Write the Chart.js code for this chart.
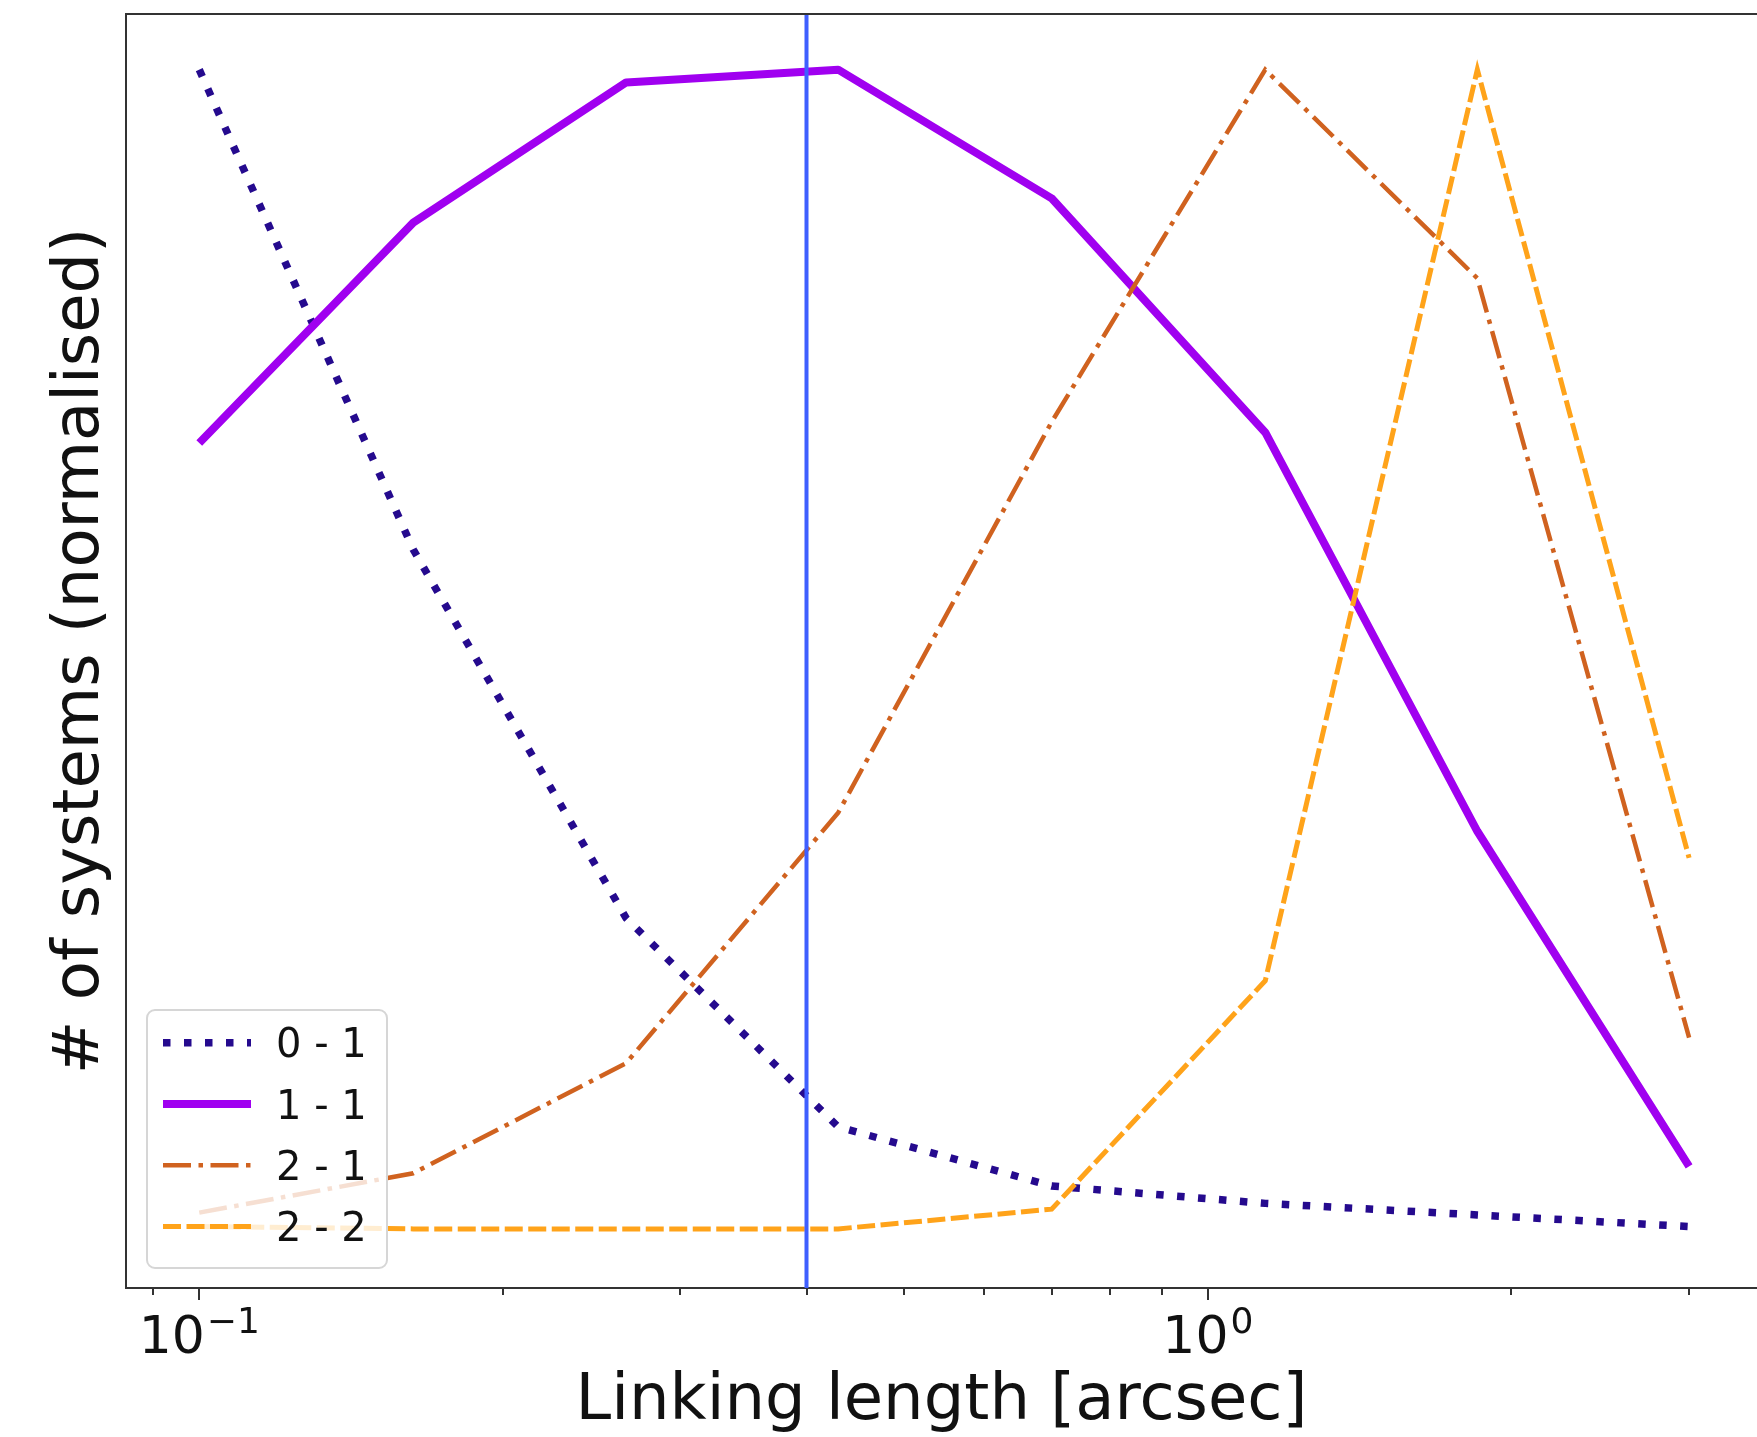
<!DOCTYPE html>
<html>
<head>
<meta charset="utf-8">
<script src="https://cdn.jsdelivr.net/npm/chart.js@4.4.1/dist/chart.umd.min.js"></script>
<style>
  html, body { margin: 0; padding: 0; background: #fff; overflow: hidden; }
  canvas { display: block; }
</style>
</head>
<body>
<canvas id="linking" width="1757" height="1437"></canvas>
<script>
// linking length in arcsec (log spaced from 0.1 to 3)
const linkLength = [0.1, 0.163, 0.265, 0.43, 0.70, 1.14, 1.85, 3.0];

// normalised number of systems per class
const sys01 = [1.0, 0.586, 0.268, 0.088, 0.037, 0.022, 0.012, 0.002];
const sys11 = [0.678, 0.868, 0.989, 1.0, 0.889, 0.687, 0.343, 0.054];
const sys21 = [0.014, 0.048, 0.143, 0.359, 0.696, 1.0, 0.820, 0.165];
const sys22 = [0.002, 0.0, 0.0, 0.0, 0.017, 0.214, 1.0, 0.320];

const seriesNames = ["0 - 1", "1 - 1", "2 - 1", "2 - 2"];
const chosenLength = 0.4;

const majorTicks = [0.1, 1];
const majorExponents = ["\u22121", "0"];
const minorTicks = [0.09, 0.2, 0.3, 0.4, 0.5, 0.6, 0.7, 0.8, 0.9, 2, 3];

const xMin = 0.0846;
const xMax = 3.503;
const yMin = -0.051;
const yMax = 1.048;

const fontFamily = "'DejaVu Sans', sans-serif";
const spineColor = "#333";

const toPoints = (ys) => ys.map((y, i) => ({ x: linkLength[i], y: y }));

const frame = {
  id: "frame",
  afterDraw(chart) {
    const { ctx, chartArea: a } = chart;
    const x = chart.scales.x;
    ctx.save();

    // top spine
    ctx.strokeStyle = spineColor;
    ctx.lineWidth = 2;
    ctx.beginPath();
    ctx.moveTo(a.left, a.top);
    ctx.lineTo(a.right, a.top);
    ctx.stroke();

    // tick marks
    const tick = (v, len) => {
      const px = Math.round(x.getPixelForValue(v));
      ctx.beginPath();
      ctx.moveTo(px, a.bottom);
      ctx.lineTo(px, a.bottom + len);
      ctx.stroke();
    };
    minorTicks.forEach((v) => tick(v, 7));
    majorTicks.forEach((v) => tick(v, 12));

    // tick labels 10^n
    ctx.fillStyle = "#111";
    ctx.textAlign = "left";
    ctx.textBaseline = "alphabetic";
    majorTicks.forEach((v, i) => {
      const px = x.getPixelForValue(v);
      ctx.font = "52px " + fontFamily;
      const w1 = ctx.measureText("10").width;
      ctx.font = "36px " + fontFamily;
      const w2 = ctx.measureText(majorExponents[i]).width;
      const left = px - (w1 + 2 + w2) / 2;
      ctx.font = "52px " + fontFamily;
      ctx.fillText("10", left, a.bottom + 64.5);
      ctx.font = "36px " + fontFamily;
      ctx.fillText(majorExponents[i], left + w1 + 2, a.bottom + 45);
    });

    // legend
    const bx = 147, by = 1010, bw = 240, bh = 258, r = 8;
    ctx.beginPath();
    ctx.moveTo(bx + r, by);
    ctx.arcTo(bx + bw, by, bx + bw, by + bh, r);
    ctx.arcTo(bx + bw, by + bh, bx, by + bh, r);
    ctx.arcTo(bx, by + bh, bx, by, r);
    ctx.arcTo(bx, by, bx + bw, by, r);
    ctx.closePath();
    ctx.fillStyle = "rgba(255,255,255,0.8)";
    ctx.fill();
    ctx.strokeStyle = "#d6d6d6";
    ctx.lineWidth = 2;
    ctx.stroke();

    seriesNames.forEach((name, i) => {
      const ds = chart.data.datasets[i];
      const rowY = by + 32.7 + i * 61.3;
      ctx.save();
      ctx.strokeStyle = ds.borderColor;
      ctx.lineWidth = ds.borderWidth;
      ctx.lineCap = "butt";
      ctx.setLineDash(ds.borderDash || []);
      ctx.beginPath();
      ctx.moveTo(163, rowY);
      ctx.lineTo(251, rowY);
      ctx.stroke();
      ctx.restore();
      ctx.fillStyle = "#111";
      ctx.font = "40px " + fontFamily;
      ctx.fillText(name, 276, rowY + 14.6);
    });

    ctx.restore();
  }
};

new Chart(document.getElementById("linking"), {
  type: "line",
  data: {
    datasets: [
      {
        label: seriesNames[0],
        data: toPoints(sys01),
        borderColor: "#250a8e",
        borderWidth: 7.5,
        borderDash: [7.5, 13.5],
        order: 4,
      },
      {
        label: seriesNames[1],
        data: toPoints(sys11),
        borderColor: "#a000f0",
        borderWidth: 8,
        borderJoinStyle: "round",
        order: 3,
      },
      {
        label: seriesNames[2],
        data: toPoints(sys21),
        borderColor: "#d0621f",
        borderWidth: 4.5,
        borderDash: [28, 7.5, 4.5, 7.5],
        order: 2,
      },
      {
        label: seriesNames[3],
        data: toPoints(sys22),
        borderColor: "#ffa31a",
        borderWidth: 5,
        borderDash: [18, 5.5],
        order: 1,
      },
      {
        label: "chosen",
        data: [{ x: chosenLength, y: yMin }, { x: chosenLength, y: yMax }],
        borderColor: "#3f5fff",
        borderWidth: 4,
        order: 0,
      },
    ],
  },
  options: {
    responsive: false,
    animation: false,
    devicePixelRatio: 1,
    layout: { padding: { top: 14, left: 0, right: 0, bottom: 0 } },
    elements: {
      point: { radius: 0, hoverRadius: 0 },
      line: { tension: 0, fill: false, borderCapStyle: "butt" },
    },
    plugins: {
      legend: { display: false },
      tooltip: { enabled: false },
    },
    events: [],
    scales: {
      x: {
        type: "logarithmic",
        min: xMin,
        max: xMax,
        grid: { display: false },
        border: { display: true, color: spineColor, width: 2 },
        ticks: { display: false },
        title: {
          display: true,
          text: "Linking length [arcsec]",
          color: "#111",
          font: { family: fontFamily, size: 64, lineHeight: 1 },
          padding: { top: 0, bottom: 3 },
        },
        afterFit: (s) => { s.height = 149; },
      },
      y: {
        type: "linear",
        min: yMin,
        max: yMax,
        grid: { display: false },
        border: { display: true, color: spineColor, width: 2 },
        ticks: { display: false },
        title: {
          display: true,
          text: "# of systems (normalised)",
          color: "#111",
          font: { family: fontFamily, size: 64, lineHeight: 1 },
          padding: { top: 49, bottom: 0 },
        },
        afterFit: (s) => { s.width = 126; },
      },
    },
  },
  plugins: [frame],
});
</script>
</body>
</html>
